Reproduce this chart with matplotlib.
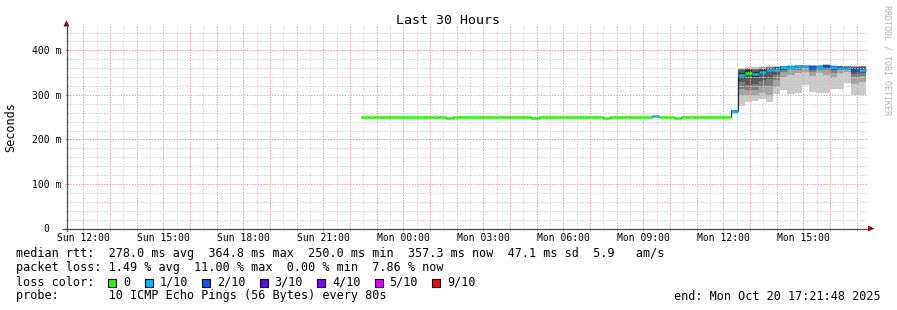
import matplotlib
matplotlib.use("Agg")
import matplotlib.pyplot as plt
from matplotlib.lines import Line2D
from matplotlib.patches import Polygon, Rectangle
import numpy as np

plt.rcParams["font.family"] = "DejaVu Sans Mono"

W, H = 897, 310

# 16 minute steps, first one starts Sun 22:24 (hours counted from Sun 00:00)
first_step = 22.4
step_h = 16 / 60

# median rtt in ms for every step
median_ms = [251, 251, 251, 251, 251, 251, 251, 251, 251, 251, 251, 251,
             248, 251, 251, 251, 251, 251, 251, 251, 251, 251, 251, 251,
             248, 251, 251, 251, 251, 251, 251, 251, 251, 251,
             248, 251, 251, 251, 251, 251, 251,
             253, 251, 251,
             248, 251, 251, 251, 251, 251, 251, 251,
             264,
             344, 350, 346, 351, 356, 357, 362, 362, 364, 364,
             363, 363, 365, 362, 361, 361, 355, 357]

# lost pings (out of 10) for every step
loss_pings = [0, 0, 0, 0, 0, 0, 0, 0, 0, 0, 0, 0,
              0, 0, 0, 0, 0, 0, 0, 0, 0, 0, 0, 0,
              0, 0, 0, 0, 0, 0, 0, 0, 0, 0,
              0, 0, 0, 0, 0, 0, 0,
              1, 0, 0,
              0, 0, 0, 0, 0, 0, 0, 0,
              1,
              1, 0, 1, 1, 1, 1, 1, 1, 1, 1,
              2, 1, 2, 1, 1, 1, 2, 1]

# sorted ping times (ms) of the steps where the smoke is visible
smoke_first = 52
smoke_ms = [
    [257, 259, 261, 262, 263, 264, 265, 265, 266, 266],
    [276, 299, 314, 329, 338, 350, 355, 358, 359, 360],
    [284, 299, 310, 322, 345, 355, 358, 360, 361, 362],
    [286, 300, 312, 325, 340, 352, 357, 359, 361, 362],
    [290, 305, 318, 332, 346, 356, 359, 361, 362, 363],
    [284, 300, 320, 335, 352, 359, 361, 362, 363, 364],
    [303, 318, 333, 345, 354, 360, 362, 363, 363, 364],
    [310, 340, 352, 357, 360, 363, 364, 365, 365, 366],
    [303, 345, 355, 358, 361, 364, 365, 365, 366, 367],
    [305, 350, 357, 360, 363, 365, 366, 366, 367, 367],
    [323, 352, 358, 360, 363, 365, 366, 366, 367, 367],
    [306, 343, 352, 357, 361, 365, 366, 366, 367, 367],
    [305, 350, 356, 359, 362, 365, 366, 366, 367, 367],
    [305, 345, 355, 359, 363, 367, 368, 368, 368, 369],
    [314, 337, 350, 356, 360, 364, 365, 366, 366, 367],
    [314, 350, 355, 358, 360, 363, 364, 365, 366, 366],
    [327, 352, 356, 358, 360, 362, 363, 364, 365, 366],
    [299, 325, 340, 348, 354, 360, 362, 363, 364, 365],
    [299, 330, 342, 350, 356, 360, 362, 364, 365, 366],
]

loss_levels = [0, 1, 2, 3, 4, 5, 9]
loss_labels = ["0", "1/10", "2/10", "3/10", "4/10", "5/10", "9/10"]
loss_colors = ["#26ff00", "#00b8ff", "#0059ff", "#5e00ff", "#7e00ff", "#dd00ff", "#ff0000"]
smoke_shades = ["#cacaca", "#a4a4a4", "#7e7e7e", "#585858", "#323232"]

tick_hours = [12, 15, 18, 21, 24, 27, 30, 33, 36, 39]
tick_labels = ["Sun 12:00", "Sun 15:00", "Sun 18:00", "Sun 21:00", "Mon 00:00",
               "Mon 03:00", "Mon 06:00", "Mon 09:00", "Mon 12:00", "Mon 15:00"]
ytick_vals = [0, 100, 200, 300, 400]
ytick_labels = ["0  ", "100 m", "200 m", "300 m", "400 m"]

legend_lines = [
    "median rtt:  278.0 ms avg  364.8 ms max  250.0 ms min  357.3 ms now  47.1 ms sd  5.9   am/s",
    "packet loss: 1.49 % avg  11.00 % max  0.00 % min  7.86 % now",
    "loss color:",
    "probe:       10 ICMP Echo Pings (56 Bytes) every 80s",
]
end_text = "end: Mon Oct 20 17:21:48 2025"

view_start = 11 + 21 / 60 + 48 / 3600   # Sun 11:21:48
view_end = view_start + 30
y_top = 457


def fx(x):
    return x / W


def fy(y):
    return 1 - y / H


fig = plt.figure(figsize=(W / 100, H / 100), dpi=100)
ax = fig.add_axes([fx(66.5), fy(228.5), 800 / W, 203.5 / H])

starts = first_step + step_h * np.arange(len(median_ms))
edges = first_step + step_h * np.arange(len(median_ms) + 1)

# smoke, outer pair lightest
smoke = np.array(smoke_ms)
s_starts = starts[smoke_first:]
for i, c in enumerate(smoke_shades):
    lo = smoke[:, i]
    hi = smoke[:, 9 - i]
    ax.bar(s_starts, hi - lo, bottom=lo, width=step_h, align="edge",
           color=c, linewidth=0, antialiased=False, zorder=1)

ax.stairs(median_ms, edges, baseline=None, color="#202020", lw=0.8, zorder=3)

colors = []
for l in loss_pings:
    idx = next(i for i, lv in enumerate(loss_levels) if l <= lv)
    colors.append(loss_colors[idx])
ax.hlines(median_ms, starts, starts + step_h, colors=colors, lw=1.8,
          zorder=4, capstyle="butt")

ax.set_xlim(view_start, view_end)
ax.set_ylim(0, y_top)

hours = np.arange(12, 42)
ax.set_xticks(hours)
ax.set_xticklabels([tick_labels[tick_hours.index(h)] if h in tick_hours else "" for h in hours])
ax.set_xticks(np.arange(11.5, 41.5, 1.0), minor=True)
ax.set_yticks(ytick_vals)
ax.set_yticklabels(ytick_labels)
ax.set_yticks(np.arange(20, y_top, 20), minor=True)

ax.set_axisbelow(False)
ax.grid(which="major", color="#f3a0a0", lw=0.72, ls=(0, (1.4, 1.4)))
ax.grid(which="minor", color="#d2d2d2", lw=0.72, ls=(0, (1.4, 1.4)))

ax.tick_params(which="major", direction="inout", length=3, width=0.72,
               color="#a0a0a0", labelsize=7, pad=2)
ax.tick_params(which="minor", direction="inout", length=2, width=0.72, color="#c8c8c8")
for s in ax.spines.values():
    s.set_visible(False)

# axis lines with arrows
axis_col = "#4d4d4d"
arrow_col = "#8b1010"
fig.add_artist(Line2D([fx(66.5), fx(66.5)], [fy(231), fy(25)], color=axis_col, lw=0.9))
fig.add_artist(Line2D([fx(63), fx(869)], [fy(228.5), fy(228.5)], color=axis_col, lw=0.9))
fig.add_artist(Polygon([[fx(63.5), fy(26.5)], [fx(69.5), fy(26.5)], [fx(66.5), fy(20)]],
                       closed=True, color=arrow_col, lw=0))
fig.add_artist(Polygon([[fx(868), fy(225.5)], [fx(868), fy(231.5)], [fx(874.5), fy(228.5)]],
                       closed=True, color=arrow_col, lw=0))

fig.text(fx(448), fy(24), "Last 30 Hours", ha="center", va="baseline", fontsize=9.5)
fig.text(fx(10.5), fy(127.5), "Seconds", rotation=90, ha="center", va="center", fontsize=8.5)
fig.text(fx(887), fy(5), "RRDTOOL / TOBI OETIKER", rotation=270, ha="center", va="top",
         fontsize=6, color="#b4b4b4")

char_w = 7.1
for i, line in enumerate(legend_lines):
    fig.text(fx(16), fy(257.5 + 14 * i), line, ha="left", va="baseline", fontsize=8.5)
fig.text(fx(881), fy(299.5), end_text, ha="right", va="baseline", fontsize=8.5)

cursor = 13
for lab, col in zip(loss_labels, loss_colors):
    x0 = 16 + cursor * char_w
    fig.add_artist(Rectangle((fx(x0), fy(286.5)), 8 / W, 8 / H, facecolor=col,
                             edgecolor="black", lw=0.8))
    fig.text(fx(x0 + 2.1 * char_w), fy(285.5), lab, ha="left", va="baseline", fontsize=8.5)
    cursor += 2.1 + len(lab) + 2

fig.savefig("out.png", dpi=100)
